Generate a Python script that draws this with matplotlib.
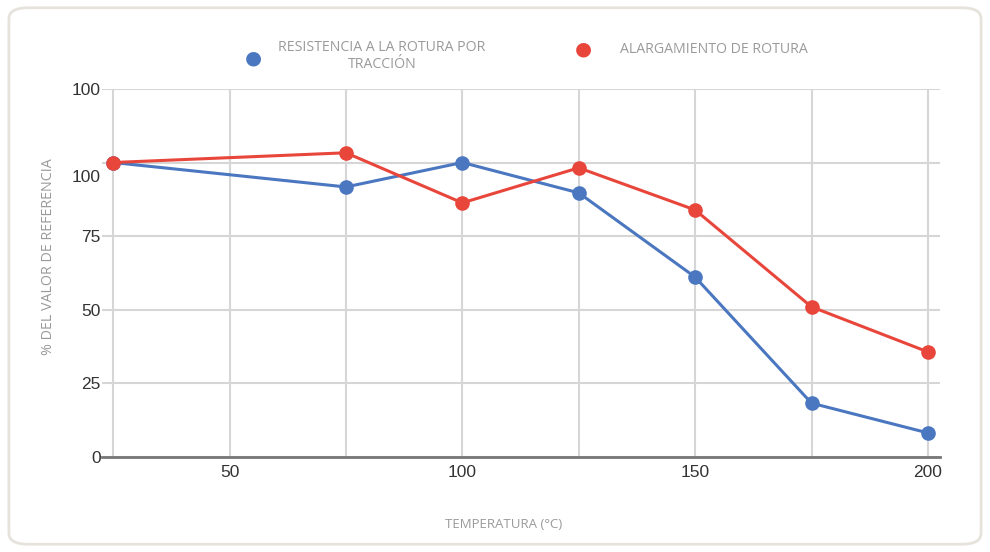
import matplotlib
matplotlib.use('Agg')
import matplotlib.pyplot as plt
import matplotlib.transforms as mtransforms
from matplotlib.patches import FancyBboxPatch
from matplotlib.ticker import FixedLocator

temperatura = [25, 75, 100, 125, 150, 175, 200]
resistencia = [100, 91.7, 100, 89.7, 61.1, 18.3, 8.2]
alargamiento = [100, 103.3, 86.3, 98.2, 83.9, 51.0, 35.7]

x_major = [50, 100, 150, 200]
x_minor = [25, 75, 125, 175]
y_ticks = [0, 25, 50, 75, 100, 125]
y_labels = ['0', '25', '50', '75', '100', '100']

serie_1 = 'RESISTENCIA A LA ROTURA POR\nTRACCIÓN'
serie_2 = 'ALARGAMIENTO DE ROTURA'

azul = '#4a77c0'
rojo = '#e8463b'
gris = '#9a9a9a'

fig = plt.figure(figsize=(9.9, 5.52), dpi=100)

# marco redondeado de la tarjeta
marco = FancyBboxPatch((0.009, 0.014), 0.982, 0.972, boxstyle='round,pad=0,rounding_size=0.02',
                       transform=fig.transFigure, facecolor='white', edgecolor='#e6e3dc', lw=2,
                       zorder=-5)
fig.add_artist(marco)

ax = fig.add_axes([0.103, 0.172, 0.8465, 0.667])
ax.set_facecolor('none')

ax.plot(temperatura, resistencia, color=azul, lw=2.2, marker='o', ms=9.5, zorder=3)
ax.plot(temperatura, alargamiento, color=rojo, lw=2.2, marker='o', ms=9.5, zorder=4)

ax.set_xlim(22.6, 202.6)
ax.set_ylim(0, 125)

ax.xaxis.set_major_locator(FixedLocator(x_major))
ax.xaxis.set_minor_locator(FixedLocator(x_minor))
ax.set_yticks(y_ticks)
ax.set_yticklabels(y_labels)
ax.grid(True, which='both', color='#d6d6d6', lw=1.5)
ax.set_axisbelow(True)

for s in ['top', 'right', 'left']:
    ax.spines[s].set_visible(False)
ax.spines['bottom'].set_color('#777777')
ax.spines['bottom'].set_linewidth(2)

ax.tick_params(axis='both', which='both', length=0, labelsize=12.5, labelcolor='#333333')
ax.tick_params(axis='x', pad=6)
ax.tick_params(axis='y', pad=1)
for lab in ax.get_xticklabels() + ax.get_yticklabels():
    lab.set_fontfamily('Liberation Sans')

# la etiqueta del 100 queda algo por debajo de su línea
etiq = ax.get_yticklabels()[4]
etiq.set_transform(etiq.get_transform() + mtransforms.ScaledTranslation(0, -13 / 100, fig.dpi_scale_trans))

ax.set_xlabel('TEMPERATURA (°C)', fontsize=9.5, color=gris, labelpad=27, fontfamily='Open Sans')
ax.xaxis.label.set_x(0.479)
fig.text(0.049, 1 - 257 / 552, '% DEL VALOR DE REFERENCIA', rotation=90, ha='center', va='center',
         fontsize=10.3, color=gris, fontfamily='Open Sans')

# leyenda
fig.text(0.2555, 1 - 58 / 552, '●', color=azul, fontsize=14, ha='center', va='center')
fig.text(0.386, 1 - 56 / 552, serie_1, color=gris, fontsize=10.2, ha='center', va='center',
         linespacing=1.25, fontfamily='Open Sans')
fig.text(0.589, 1 - 49 / 552, '●', color=rojo, fontsize=14, ha='center', va='center')
fig.text(0.626, 1 - 49 / 552, serie_2, color=gris, fontsize=10.2, ha='left', va='center',
         fontfamily='Open Sans')

fig.savefig('out.png', dpi=100)
